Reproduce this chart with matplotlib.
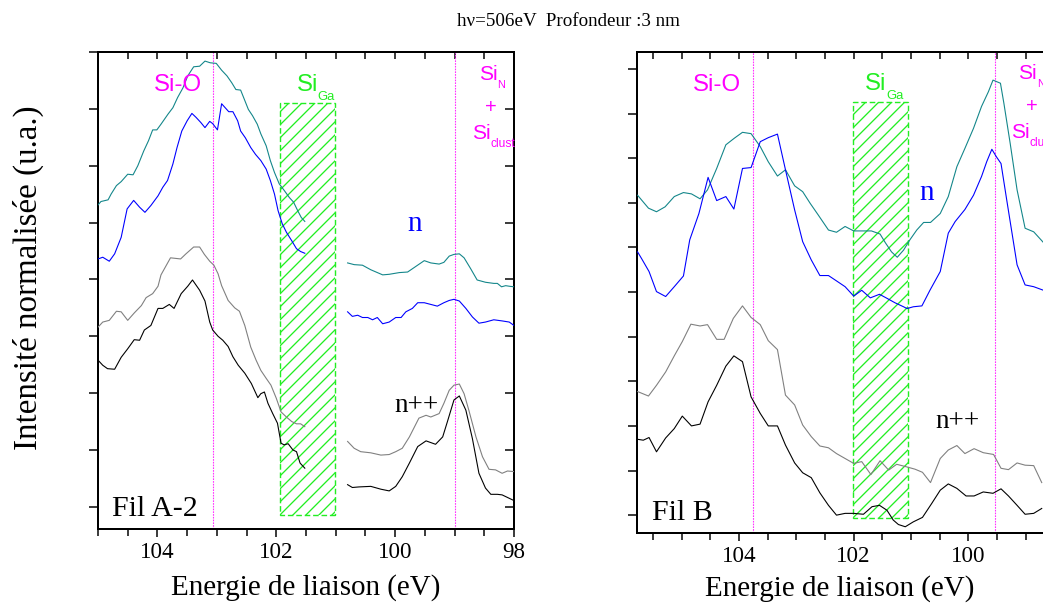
import matplotlib
matplotlib.use('Agg')
import matplotlib.pyplot as plt
from matplotlib.patches import Rectangle
from matplotlib.lines import Line2D
from matplotlib.transforms import IdentityTransform
from matplotlib.ticker import MultipleLocator, NullFormatter, FuncFormatter

# ---------------- data : Fil A-2 (left panel) ----------------
a2_teal_l_x = [105.00,104.95,104.83,104.78,104.69,104.61,104.50,104.41,104.33,104.23,104.15,104.08,104.01,103.94,103.88,
               103.82,103.74,103.66,103.57,103.49,103.39,103.29,103.20,103.11,103.01,102.92,102.83,102.75,102.68,102.60,
               102.55,102.47,102.40,102.32,102.26,102.17,102.10,102.03,101.95,101.87,101.78,101.71,101.64,101.58,101.52]
a2_teal_l_y = [5.31,5.37,5.40,5.50,5.65,5.72,5.85,5.84,6.00,6.26,6.44,6.63,6.63,6.73,6.82,
               6.91,7.02,7.20,7.37,7.58,7.74,7.75,7.84,7.81,7.80,7.68,7.58,7.46,7.34,7.33,
               7.20,6.99,6.88,6.73,6.56,6.35,6.09,5.88,5.68,5.57,5.44,5.36,5.21,5.09,5.02]
a2_blue_l_x = [105.00,104.92,104.81,104.72,104.61,104.51,104.40,104.30,104.21,104.11,103.99,103.91,103.83,103.74,103.67,
               103.59,103.50,103.42,103.35,103.27,103.20,103.12,103.07,102.99,102.92,102.86,102.80,102.73,102.65,102.60,
               102.52,102.43,102.35,102.26,102.17,102.10,102.03,101.97,101.90,101.83,101.74,101.66,101.59,101.52]
a2_blue_l_y = [4.36,4.39,4.32,4.45,4.74,5.24,5.39,5.27,5.18,5.30,5.47,5.62,5.74,6.03,6.32,
               6.61,6.79,6.92,6.85,6.76,6.67,6.78,6.74,6.63,7.09,7.02,6.95,6.95,6.79,6.61,
               6.49,6.32,6.20,6.09,5.94,5.74,5.50,5.21,4.98,4.83,4.68,4.54,4.49,4.46]
a2_gray_l_x = [105.00,104.92,104.81,104.69,104.61,104.50,104.39,104.27,104.19,104.08,103.99,103.94,103.78,103.61,103.52,
               103.39,103.29,103.21,103.12,103.05,102.98,102.92,102.81,102.70,102.62,102.53,102.43,102.34,102.26,102.17,
               102.09,102.00,101.92,101.83,101.74,101.66,101.59,101.52]
a2_gray_l_y = [3.16,3.25,3.28,3.44,3.43,3.28,3.41,3.54,3.68,3.75,3.88,4.08,4.38,4.36,4.45,
               4.57,4.57,4.44,4.32,4.25,4.10,3.89,3.63,3.50,3.44,3.19,2.81,2.58,2.40,2.26,
               2.14,1.91,1.67,1.58,1.50,1.46,1.46,1.41]
a2_black_l_x = [105.00,104.92,104.84,104.72,104.61,104.50,104.39,104.30,104.22,104.11,103.99,103.91,103.80,103.72,103.60,
                103.49,103.41,103.29,103.20,103.12,103.07,102.98,102.90,102.81,102.73,102.64,102.53,102.42,102.31,102.26,
                102.20,102.14,102.06,101.98,101.92,101.87,101.80,101.72,101.66,101.60,101.52]
a2_black_l_y = [2.58,2.49,2.43,2.42,2.63,2.78,2.94,2.93,3.11,3.19,3.49,3.49,3.56,3.49,3.75,
                3.88,3.99,3.81,3.62,3.25,3.11,3.00,2.93,2.82,2.64,2.49,2.35,2.17,1.92,1.99,
                2.02,1.82,1.64,1.47,1.12,1.09,1.11,1.00,0.97,0.77,0.68]

a2_teal_r_x = [100.80,100.69,100.55,100.41,100.21,100.10,99.93,99.79,99.65,99.51,99.40,99.26,99.18,99.09,99.01,
               98.92,98.84,98.73,98.62,98.48,98.34,98.28,98.21,98.14,98.08,98.00]
a2_teal_r_y = [4.29,4.26,4.25,4.17,4.08,4.09,4.12,4.13,4.23,4.33,4.29,4.27,4.30,4.41,4.44,
               4.45,4.38,4.19,3.99,3.95,3.93,3.93,3.87,3.89,3.88,3.87]
a2_blue_r_x = [100.80,100.72,100.63,100.55,100.46,100.38,100.30,100.21,100.10,99.99,99.90,99.82,99.71,99.62,99.51,
               99.40,99.29,99.18,99.09,99.01,98.92,98.81,98.70,98.59,98.48,98.34,98.20,98.08,98.00]
a2_blue_r_y = [3.43,3.35,3.37,3.33,3.33,3.29,3.33,3.22,3.25,3.33,3.33,3.43,3.49,3.59,3.59,
               3.56,3.53,3.59,3.63,3.65,3.62,3.49,3.34,3.23,3.25,3.29,3.27,3.25,3.19]
a2_gray_r_x = [100.80,100.69,100.58,100.41,100.24,100.10,99.99,99.88,99.76,99.60,99.48,99.40,99.26,99.18,99.09,
               99.01,98.92,98.84,98.76,98.64,98.53,98.42,98.31,98.20,98.11,98.00]
a2_gray_r_y = [1.15,1.03,0.97,0.95,0.91,0.92,0.97,1.03,1.23,1.56,1.61,1.58,1.64,1.82,2.05,
               2.14,2.16,1.99,1.70,1.23,0.88,0.66,0.65,0.59,0.63,0.62]
a2_black_r_x = [100.80,100.72,100.61,100.41,100.24,100.10,99.99,99.88,99.76,99.62,99.48,99.40,99.32,99.20,99.12,
                99.01,98.92,98.81,98.70,98.59,98.48,98.39,98.28,98.20,98.08,98.00]
a2_black_r_y = [0.39,0.34,0.35,0.36,0.31,0.28,0.36,0.53,0.77,1.06,1.16,1.13,1.10,1.23,1.50,
                1.88,1.95,1.70,1.20,0.59,0.33,0.22,0.22,0.21,0.15,0.11]

# ---------------- data : Fil B (right panel) ----------------
b_teal_x = [105.77,105.58,105.44,105.29,105.13,104.97,104.83,104.68,104.55,104.39,104.23,104.08,103.94,103.79,103.63,
            103.49,103.33,103.19,103.03,102.89,102.76,102.62,102.44,102.30,102.15,102.00,101.83,101.69,101.54,101.45,
            101.34,101.24,101.13,101.02,100.90,100.78,100.66,100.49,100.35,100.20,100.06,99.91,99.77,99.65,99.57,
            99.44,99.38,99.27,99.15,99.01,98.86,98.69]
b_teal_y = [7.17,6.88,6.80,6.91,7.14,7.23,7.20,7.09,7.29,7.77,8.30,8.45,8.58,8.55,8.26,
            7.92,7.60,7.74,7.38,7.25,6.99,6.73,6.39,6.34,6.47,6.37,6.37,6.37,6.30,6.11,
            5.90,5.78,5.94,6.17,6.39,6.56,6.56,6.76,7.14,7.81,8.22,8.67,9.16,9.49,9.75,
            9.68,9.23,8.33,7.29,6.43,6.35,6.11]
b_blue_x = [105.77,105.70,105.57,105.44,105.28,105.13,104.97,104.86,104.70,104.54,104.39,104.23,104.09,103.94,103.79,
            103.63,103.49,103.33,103.19,103.03,102.89,102.74,102.59,102.44,102.30,102.15,102.00,101.86,101.71,101.55,
            101.42,101.28,101.13,101.07,100.96,100.81,100.67,100.49,100.35,100.23,100.06,99.91,99.77,99.68,99.59,
            99.51,99.43,99.33,99.15,99.01,98.86,98.69]
b_blue_y = [5.90,5.75,5.46,5.01,4.90,5.12,5.36,6.17,6.76,7.57,7.05,7.14,6.86,7.77,7.79,
            8.37,8.46,8.54,7.74,6.84,6.13,5.72,5.37,5.37,5.25,5.12,4.91,5.04,4.87,4.95,
            4.86,4.76,4.67,4.63,4.67,4.69,5.04,5.46,6.32,6.58,6.85,7.17,7.59,7.92,8.20,
            8.03,7.88,7.06,5.61,5.16,5.12,5.04]
b_gray_x = [105.77,105.58,105.44,105.28,105.13,104.99,104.84,104.68,104.55,104.39,104.26,104.10,103.94,103.79,103.63,
            103.49,103.33,103.19,103.03,102.89,102.74,102.59,102.44,102.30,102.15,102.00,101.86,101.70,101.54,101.39,
            101.25,101.07,100.93,100.80,100.66,100.49,100.35,100.20,100.06,99.90,99.74,99.56,99.43,99.30,99.15,
            99.01,98.86,98.72]
b_gray_y = [2.77,2.67,2.91,3.21,3.57,3.89,4.28,4.24,4.27,3.94,3.94,4.41,4.69,4.43,4.27,
            3.91,3.71,2.69,2.47,2.02,1.76,1.55,1.51,1.38,1.27,1.16,1.20,0.91,1.22,1.01,
            1.14,1.08,1.03,0.96,0.73,1.27,1.46,1.56,1.38,1.49,1.40,1.36,1.05,1.02,1.17,
            1.12,1.11,0.73]
b_black_x = [105.77,105.67,105.57,105.44,105.28,105.13,104.99,104.83,104.68,104.54,104.39,104.23,104.09,103.94,103.79,
             103.63,103.49,103.33,103.19,103.03,102.89,102.74,102.59,102.44,102.30,102.15,102.00,101.83,101.68,101.55,
             101.42,101.31,101.22,101.10,100.96,100.80,100.64,100.49,100.35,100.20,100.04,99.90,99.74,99.57,99.43,
             99.30,99.15,99.01,98.86,98.72]
b_black_y = [1.70,1.68,1.74,1.42,1.73,1.94,2.22,2.00,2.04,2.54,2.91,3.34,3.57,3.44,2.65,
             2.28,2.00,2.00,1.57,1.17,0.95,0.84,0.50,0.22,0.00,0.04,0.04,0.02,0.19,0.22,
             0.11,-0.11,-0.21,-0.26,-0.15,-0.05,0.26,0.56,0.70,0.60,0.43,0.43,0.52,0.49,0.59,
             0.43,0.22,0.02,0.04,0.15]

# reference lines / regions
a2_vlines = [103.06, 99.00]
b_vlines = [103.76, 99.53]
a2_siga = (101.94, 101.01, -0.14, 7.10)   # x0, x1, y0, y1
b_siga = (102.02, 101.06, -0.07, 9.25)
xtick_labels = ['98', '100', '102', '104']

TITLE = "h\u03bd=506eV  Profondeur :3 nm"
XLABEL = "Energie de liaison (eV)"
YLABEL = "Intensit\u00e9 normalis\u00e9e (u.a.)"

TEAL = '#13868a'
BLUE = '#0000ff'
GRAY = '#808080'
BLACK = '#000000'
MAG = '#ff00ff'
VMAG = '#ff33ff'
GREEN = '#22ee22'

DPI = 72
W, H = 1043, 608
HATCH_STEP = 13  # px between hatch lines
plt.rcParams['font.family'] = ['Liberation Serif', 'DejaVu Serif']
fig = plt.figure(figsize=(W / DPI, H / DPI), dpi=DPI)


def px_axes(l, t, r, b):
    return fig.add_axes([l / W, 1 - b / H, (r - l) / W, (b - t) / H])


def style(ax, xlim, ylim, nyt):
    ax.set_xlim(*xlim)
    ax.set_ylim(*ylim)
    ax.xaxis.set_major_locator(MultipleLocator(2))
    ax.xaxis.set_minor_locator(MultipleLocator(0.5))
    ax.xaxis.set_major_formatter(FuncFormatter(
        lambda v, p: xtick_labels[int(round((v - 98) / 2))] if 0 <= round((v - 98) / 2) < len(xtick_labels) else ''))
    ax.set_yticks(range(nyt + 1))
    ax.yaxis.set_major_formatter(NullFormatter())
    ax.tick_params(axis='x', which='both', direction='out', top=False, bottom=True,
                   labelsize=23, pad=5, width=1.5)
    ax.tick_params(axis='x', which='major', length=8)
    ax.tick_params(axis='x', which='minor', length=7)
    ax.tick_params(axis='y', which='both', direction='out', left=True, right=False,
                   length=9, width=1.5)
    for s in ax.spines.values():
        s.set_linewidth(2)
    top = ax.secondary_xaxis('top')
    top.xaxis.set_major_locator(MultipleLocator(2))
    top.xaxis.set_minor_locator(MultipleLocator(0.5))
    top.tick_params(which='both', direction='in', length=7, width=1.5, labeltop=False)
    top.spines['top'].set_linewidth(2)
    right = ax.secondary_yaxis('right')
    right.set_yticks(range(nyt + 1))
    right.tick_params(direction='in', length=9, width=1.5, labelright=False)
    right.spines['right'].set_linewidth(2)


def sub_text(ax, x, y, main, sub, color, size, subsize, dy=-4):
    t = ax.text(x, y, main, color=color, fontsize=size, family='Liberation Sans',
                ha='left', va='baseline')
    ax.annotate(sub, xy=(1, 0), xycoords=t, xytext=(0, dy), textcoords='offset points',
                color=color, fontsize=subsize, family='Liberation Sans', ha='left', va='baseline')


def region(ax, spec):
    """Dashed green box with 45-degree hatching clipped to it."""
    x0, x1, y0, y1 = spec
    rect = Rectangle((x1, y0), x0 - x1, y1 - y0, fill=False, edgecolor=GREEN,
                     linewidth=1.4, linestyle=(0, (4, 2)), zorder=2)
    ax.add_patch(rect)
    (Xa, Ya), (Xb, Yb) = ax.transData.transform([(x0, y0), (x1, y1)])
    xa, xb = sorted((Xa, Xb))
    ya, yb = sorted((Ya, Yb))
    c = ya - xb + 3
    while c < yb - xa:
        ln = Line2D([xa - 4, xb + 4], [xa - 4 + c, xb + 4 + c], transform=IdentityTransform(),
                    color=GREEN, lw=1.3, zorder=1.5)
        ax.add_artist(ln)
        ln.set_clip_path(rect)
        c += HATCH_STEP


def vline(ax, v):
    ax.axvline(v, color=VMAG, lw=1.1, linestyle=(0, (1.5, 1)), zorder=1)


# ---------------- left panel ----------------
axA = px_axes(98, 52, 514, 529)
style(axA, (105.0, 98.0), (-0.39, 7.98), 8)
region(axA, a2_siga)
for v in a2_vlines:
    vline(axA, v)
lw = 1.1
for xs, ys, c in [(a2_teal_l_x, a2_teal_l_y, TEAL), (a2_blue_l_x, a2_blue_l_y, BLUE),
                  (a2_gray_l_x, a2_gray_l_y, GRAY), (a2_black_l_x, a2_black_l_y, BLACK),
                  (a2_teal_r_x, a2_teal_r_y, TEAL), (a2_blue_r_x, a2_blue_r_y, BLUE),
                  (a2_gray_r_x, a2_gray_r_y, GRAY), (a2_black_r_x, a2_black_r_y, BLACK)]:
    axA.plot(xs, ys, color=c, lw=lw, zorder=3)

axA.text(103.66, 7.42, "Si-O", color=MAG, fontsize=24, family='Liberation Sans',
         ha='center', va='center')
sub_text(axA, 101.66, 7.32, "Si", "Ga", GREEN, 24, 13)
sub_text(axA, 98.59, 7.51, "Si", "N", MAG, 21, 11)
axA.text(98.39, 7.02, "+", color=MAG, fontsize=20, family='Liberation Sans', ha='center', va='center')
sub_text(axA, 98.71, 6.47, "Si", "clust", MAG, 21, 12)
axA.text(99.68, 4.86, "n", color=BLUE, fontsize=29, ha='center', va='baseline')
axA.text(100.02, 1.67, "n++", color=BLACK, fontsize=27, ha='left', va='baseline')
axA.text(104.76, -0.16, "Fil A-2", color=BLACK, fontsize=30, ha='left', va='baseline')
axA.set_xlabel(XLABEL, fontsize=29)
axA.xaxis.set_label_coords(0.5, -0.095)

# ---------------- right panel ----------------
axB = px_axes(637, 52, 1083, 533)
style(axB, (105.78, 98.0), (-0.40, 10.38), 10)
region(axB, b_siga)
for v in b_vlines:
    vline(axB, v)
for xs, ys, c in [(b_teal_x, b_teal_y, TEAL), (b_blue_x, b_blue_y, BLUE),
                  (b_gray_x, b_gray_y, GRAY), (b_black_x, b_black_y, BLACK)]:
    axB.plot(xs, ys, color=c, lw=lw, zorder=3)

axB.text(104.38, 9.64, "Si-O", color=MAG, fontsize=24, family='Liberation Sans',
         ha='center', va='center')
sub_text(axB, 101.80, 9.53, "Si", "Ga", GREEN, 24, 13)
sub_text(axB, 99.13, 9.78, "Si", "N", MAG, 21, 11)
axB.text(98.89, 9.15, "+", color=MAG, fontsize=20, family='Liberation Sans', ha='center', va='center')
sub_text(axB, 99.25, 8.45, "Si", "clust", MAG, 21, 12)
axB.text(100.72, 7.06, "n", color=BLUE, fontsize=29, ha='center', va='baseline')
axB.text(100.58, 1.95, "n++", color=BLACK, fontsize=27, ha='left', va='baseline')
axB.text(105.52, -0.11, "Fil B", color=BLACK, fontsize=30, ha='left', va='baseline')
axB.set_xlabel(XLABEL, fontsize=29)
axB.xaxis.set_label_coords((840 - 637) / 446, -0.087)

fig.text(28 / W, 1 - 278 / H, YLABEL, rotation=90, fontsize=33, ha='center', va='center')
fig.text(568 / W, 1 - 22 / H, TITLE, fontsize=19, ha='center', va='center')

fig.savefig('out.png', dpi=DPI)
